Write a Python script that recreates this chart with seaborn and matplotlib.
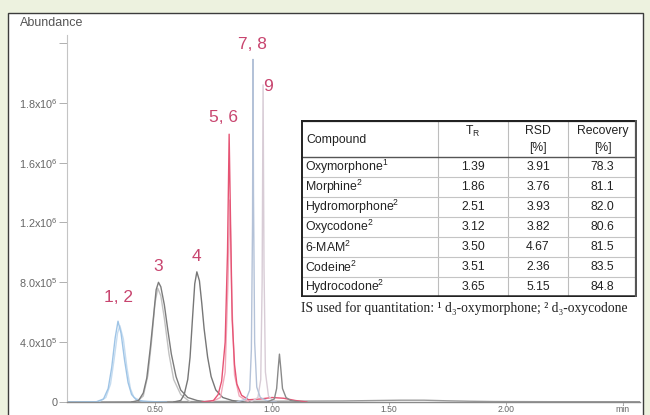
import numpy as np
import pandas as pd
import matplotlib
matplotlib.use("Agg")
import matplotlib.pyplot as plt
from matplotlib.patches import Rectangle
import seaborn as sns

# ---------------- data ----------------
# chromatogram traces: retention time (min) and abundance (x1e5)
t_1 = [0.124, 0.25, 0.28, 0.30, 0.315, 0.33, 0.342, 0.355, 0.37, 0.385, 0.40, 0.42, 0.45, 0.50, 0.55]
a_1 = [0, 0.02, 0.2, 0.9, 2.3, 4.3, 5.4, 4.6, 2.8, 1.3, 0.5, 0.15, 0.05, 0.02, 0]
t_2 = [0.26, 0.29, 0.31, 0.325, 0.34, 0.35, 0.365, 0.38, 0.395, 0.41, 0.44, 0.48]
a_2 = [0, 0.3, 1.2, 2.8, 4.6, 5.1, 4.2, 2.3, 0.9, 0.3, 0.08, 0]
t_3 = [0.40, 0.43, 0.45, 0.465, 0.48, 0.495, 0.505, 0.515, 0.525, 0.54, 0.555, 0.57, 0.59, 0.61, 0.64, 0.68, 0.72]
a_3 = [0, 0.1, 0.6, 1.6, 3.6, 5.9, 7.5, 8.0, 7.7, 6.5, 4.8, 3.2, 1.7, 0.8, 0.3, 0.1, 0]
t_3b = [0.42, 0.45, 0.47, 0.485, 0.50, 0.512, 0.525, 0.54, 0.56, 0.58, 0.61, 0.65]
a_3b = [0, 0.4, 1.8, 4.0, 6.6, 7.6, 7.1, 5.6, 3.2, 1.5, 0.5, 0]
t_4 = [0.58, 0.61, 0.625, 0.64, 0.65, 0.66, 0.67, 0.679, 0.69, 0.70, 0.71, 0.725, 0.74, 0.76, 0.79, 0.83, 0.88]
a_4 = [0, 0.1, 0.5, 1.5, 3.0, 5.5, 7.9, 8.7, 8.1, 6.6, 4.9, 3.0, 1.7, 0.8, 0.3, 0.1, 0]
t_5 = [0.70, 0.75, 0.77, 0.785, 0.80, 0.81, 0.817, 0.823, 0.83, 0.84, 0.85, 0.87, 0.90, 0.95, 1.0, 1.05, 1.10, 1.15]
a_5 = [0, 0.1, 0.5, 1.4, 4.0, 10.0, 17.9, 12.0, 5.5, 2.5, 1.2, 0.45, 0.15, 0.2, 0.3, 0.25, 0.1, 0]
t_6 = [0.74, 0.78, 0.80, 0.812, 0.82, 0.828, 0.84, 0.86, 0.90]
a_6 = [0, 0.3, 2.0, 8.0, 13.5, 7.0, 1.8, 0.4, 0]
t_7 = [0.85, 0.89, 0.905, 0.912, 0.917, 0.919, 0.921, 0.926, 0.935, 0.95, 0.98, 1.02]
a_7 = [0, 0.2, 0.8, 3.5, 12.0, 22.9, 14.0, 4.0, 1.0, 0.3, 0.08, 0]
t_9 = [0.91, 0.94, 0.952, 0.958, 0.962, 0.966, 0.972, 0.985, 1.01]
a_9 = [0, 0.3, 1.5, 8.0, 21.2, 9.0, 2.0, 0.4, 0]
t_s = [0.98, 1.01, 1.02, 1.027, 1.032, 1.038, 1.045, 1.06, 1.08, 1.12]
a_s = [0, 0.2, 0.9, 2.3, 3.2, 2.2, 0.9, 0.3, 0.1, 0]
t_b = [0.124, 0.5, 1.0, 1.3, 1.45, 1.55, 1.65, 1.75, 1.85, 1.95, 2.2, 2.573]
a_b = [0, 0.02, 0.05, 0.07, 0.1, 0.12, 0.12, 0.08, 0.05, 0.03, 0.02, 0.02]

trace_names = ["b", "2", "1", "3b", "3", "4", "6", "5", "9", "7", "s"]
trace_t = [t_b, t_2, t_1, t_3b, t_3, t_4, t_6, t_5, t_9, t_7, t_s]
trace_a = [a_b, a_2, a_1, a_3b, a_3, a_4, a_6, a_5, a_9, a_7, a_s]
trace_colors = ["#9a9a9a", "#c6dcf0", "#9ec4e6", "#c2c2c2", "#7c7c7c", "#777777", "#f2aabb",
                "#e65474", "#d8ccd6", "#b4c2d8", "#8a8a8a"]

peak_labels = ["1, 2", "3", "4", "5, 6", "7, 8", "9"]
peak_label_t = [0.342, 0.513, 0.679, 0.795, 0.915, 0.983]
peak_label_a = [7.0, 9.07, 9.73, 19.0, 23.87, 21.07]

x_ticks = [0.5, 1.0, 1.5, 2.0, 2.5]
x_tick_labels = ["0.50", "1.00", "1.50", "2.00", "min"]
y_ticks = [0, 4e5, 8e5, 1.2e6, 1.6e6, 2.0e6, 2.4e6]
y_tick_labels = ["0", r"4.0x10$^5$", r"8.0x10$^5$", r"1.2x10$^6$", r"1.6x10$^6$", r"1.8x10$^6$", ""]

compounds = [r"Oxymorphone$^1$", r"Morphine$^2$", r"Hydromorphone$^2$", r"Oxycodone$^2$",
             r"6-MAM$^2$", r"Codeine$^2$", r"Hydrocodone$^2$"]
t_r = ["1.39", "1.86", "2.51", "3.12", "3.50", "3.51", "3.65"]
rsd = ["3.91", "3.76", "3.93", "3.82", "4.67", "2.36", "5.15"]
recovery = ["78.3", "81.1", "82.0", "80.6", "81.5", "83.5", "84.8"]
footnote = "IS used for quantitation: \u00b9 d\u2083-oxymorphone; \u00b2 d\u2083-oxycodone"

# ---------------- style ----------------
sns.set_theme(style="white")
plt.rcParams["font.family"] = ["Liberation Sans", "DejaVu Sans"]
plt.rcParams["mathtext.fontset"] = "custom"
plt.rcParams["mathtext.rm"] = "Liberation Sans"
plt.rcParams["mathtext.it"] = "Liberation Sans:italic"
plt.rcParams["mathtext.bf"] = "Liberation Sans:bold"

W, H = 650, 415
fig = plt.figure(figsize=(W / 100, H / 100), dpi=100)
fig.patch.set_facecolor("#edf2df")

bg = fig.add_axes([0, 0, 1, 1], zorder=-5)
bg.set_xlim(0, W)
bg.set_ylim(H, 0)
bg.axis("off")
bg.add_patch(Rectangle((7.5, 13.5), 635, 420, facecolor="white",
                       edgecolor="#3c3c3c", linewidth=1.0))

y_base = 402
ax = fig.add_axes([67 / W, (H - y_base) / H, (640 - 67) / W, (y_base - 35) / H], zorder=1)
ax.patch.set_alpha(0)

rows = []
for name, ts, as_ in zip(trace_names, trace_t, trace_a):
    for i, (t, a) in enumerate(zip(ts, as_)):
        rows.append({"trace": name, "order": i, "time": t, "abundance": a * 1e5})
df = pd.DataFrame(rows)
sns.lineplot(data=df, x="time", y="abundance", hue="trace", hue_order=trace_names,
             palette=dict(zip(trace_names, trace_colors)), units="trace",
             estimator=None, sort=False, linewidth=1.0, legend=False, ax=ax)

for lab, t, a in zip(peak_labels, peak_label_t, peak_label_a):
    ax.text(t, a * 1e5, lab, color="#c8456f", fontsize=12.5, ha="center", va="center")

ax.set_xlim(0.124, 2.573)
ax.set_ylim(0, 2.453e6)
ax.set_xticks(x_ticks)
ax.set_xticklabels(x_tick_labels)
ax.set_yticks(y_ticks)
ax.set_yticklabels(y_tick_labels)
ax.set_xlabel("")
ax.set_ylabel("")
for s in ["top", "right"]:
    ax.spines[s].set_visible(False)
ax.spines["left"].set_color("#c4c4c4")
ax.spines["left"].set_linewidth(0.8)
ax.spines["bottom"].set_color("#8a8a8a")
ax.spines["bottom"].set_linewidth(1.0)
ax.tick_params(axis="y", length=6, width=0.7, color="#b0b0b0", labelsize=7.8,
               labelcolor="#666666", pad=1, left=True)
ax.tick_params(axis="x", length=2, width=0.7, color="#b0b0b0", labelsize=6.2,
               labelcolor="#666666", pad=0, bottom=True)
fig.text(20 / W, 1 - 23 / H, "Abundance", fontsize=9, color="#555555", va="center")

# ---------------- table ----------------
tx0, tx1, ty0, ty1 = 301, 637, 120, 297
tab = fig.add_axes([tx0 / W, 1 - ty1 / H, (tx1 - tx0) / W, (ty1 - ty0) / H], zorder=2)
tab.set_xlim(tx0, tx1)
tab.set_ylim(ty1, ty0)
tab.axis("off")
tab.add_patch(Rectangle((tx0, ty0), tx1 - tx0, ty1 - ty0, facecolor="white", edgecolor="none"))
col_x = [301, 438, 508, 568, 637]
head_bottom = 157
row_h = (ty1 - head_bottom) / 7
fs = 8.8
for cx in col_x[1:-1]:
    tab.plot([cx, cx], [ty0, ty1], color="#bdbdbd", lw=0.8)
for i in range(1, 7):
    y = head_bottom + i * row_h
    tab.plot([tx0, tx1], [y, y], color="#c4c4c4", lw=0.8)
tab.plot([tx0, tx1], [head_bottom, head_bottom], color="#555555", lw=1.0)
tab.plot([tx0, tx1], [ty0 + 0.5, ty0 + 0.5], color="#222222", lw=1.6)
tab.plot([tx0, tx1], [ty1 - 0.7, ty1 - 0.7], color="#222222", lw=1.8)
tab.plot([tx0 + 0.6, tx0 + 0.6], [ty0, ty1], color="#222222", lw=1.4)
tab.plot([tx1 - 0.8, tx1 - 0.8], [ty0, ty1], color="#555555", lw=1.6)
tab.text(306, 140, "Compound", fontsize=fs, color="#222222", va="center")
tab.text((col_x[1] + col_x[2]) / 2, 131, r"T$_\mathrm{R}$", fontsize=fs, color="#222222",
         ha="center", va="center")
tab.text((col_x[2] + col_x[3]) / 2, 131, "RSD", fontsize=fs, color="#222222", ha="center", va="center")
tab.text((col_x[2] + col_x[3]) / 2, 148, "[%]", fontsize=fs, color="#222222", ha="center", va="center")
tab.text((col_x[3] + col_x[4]) / 2, 131, "Recovery", fontsize=fs, color="#222222", ha="center", va="center")
tab.text((col_x[3] + col_x[4]) / 2, 148, "[%]", fontsize=fs, color="#222222", ha="center", va="center")
for i in range(7):
    yc = head_bottom + (i + 0.5) * row_h
    tab.text(305, yc, compounds[i], fontsize=fs, color="#222222", va="center")
    tab.text((col_x[1] + col_x[2]) / 2, yc, t_r[i], fontsize=fs, color="#222222", ha="center", va="center")
    tab.text((col_x[2] + col_x[3]) / 2, yc, rsd[i], fontsize=fs, color="#222222", ha="center", va="center")
    tab.text((col_x[3] + col_x[4]) / 2, yc, recovery[i], fontsize=fs, color="#222222", ha="center", va="center")

fig.text(301 / W, 1 - 308 / H, footnote, fontsize=9.8, color="#222222", va="center",
         family=["Liberation Serif", "DejaVu Serif"])

fig.savefig("out.png", dpi=100, facecolor=fig.get_facecolor())
